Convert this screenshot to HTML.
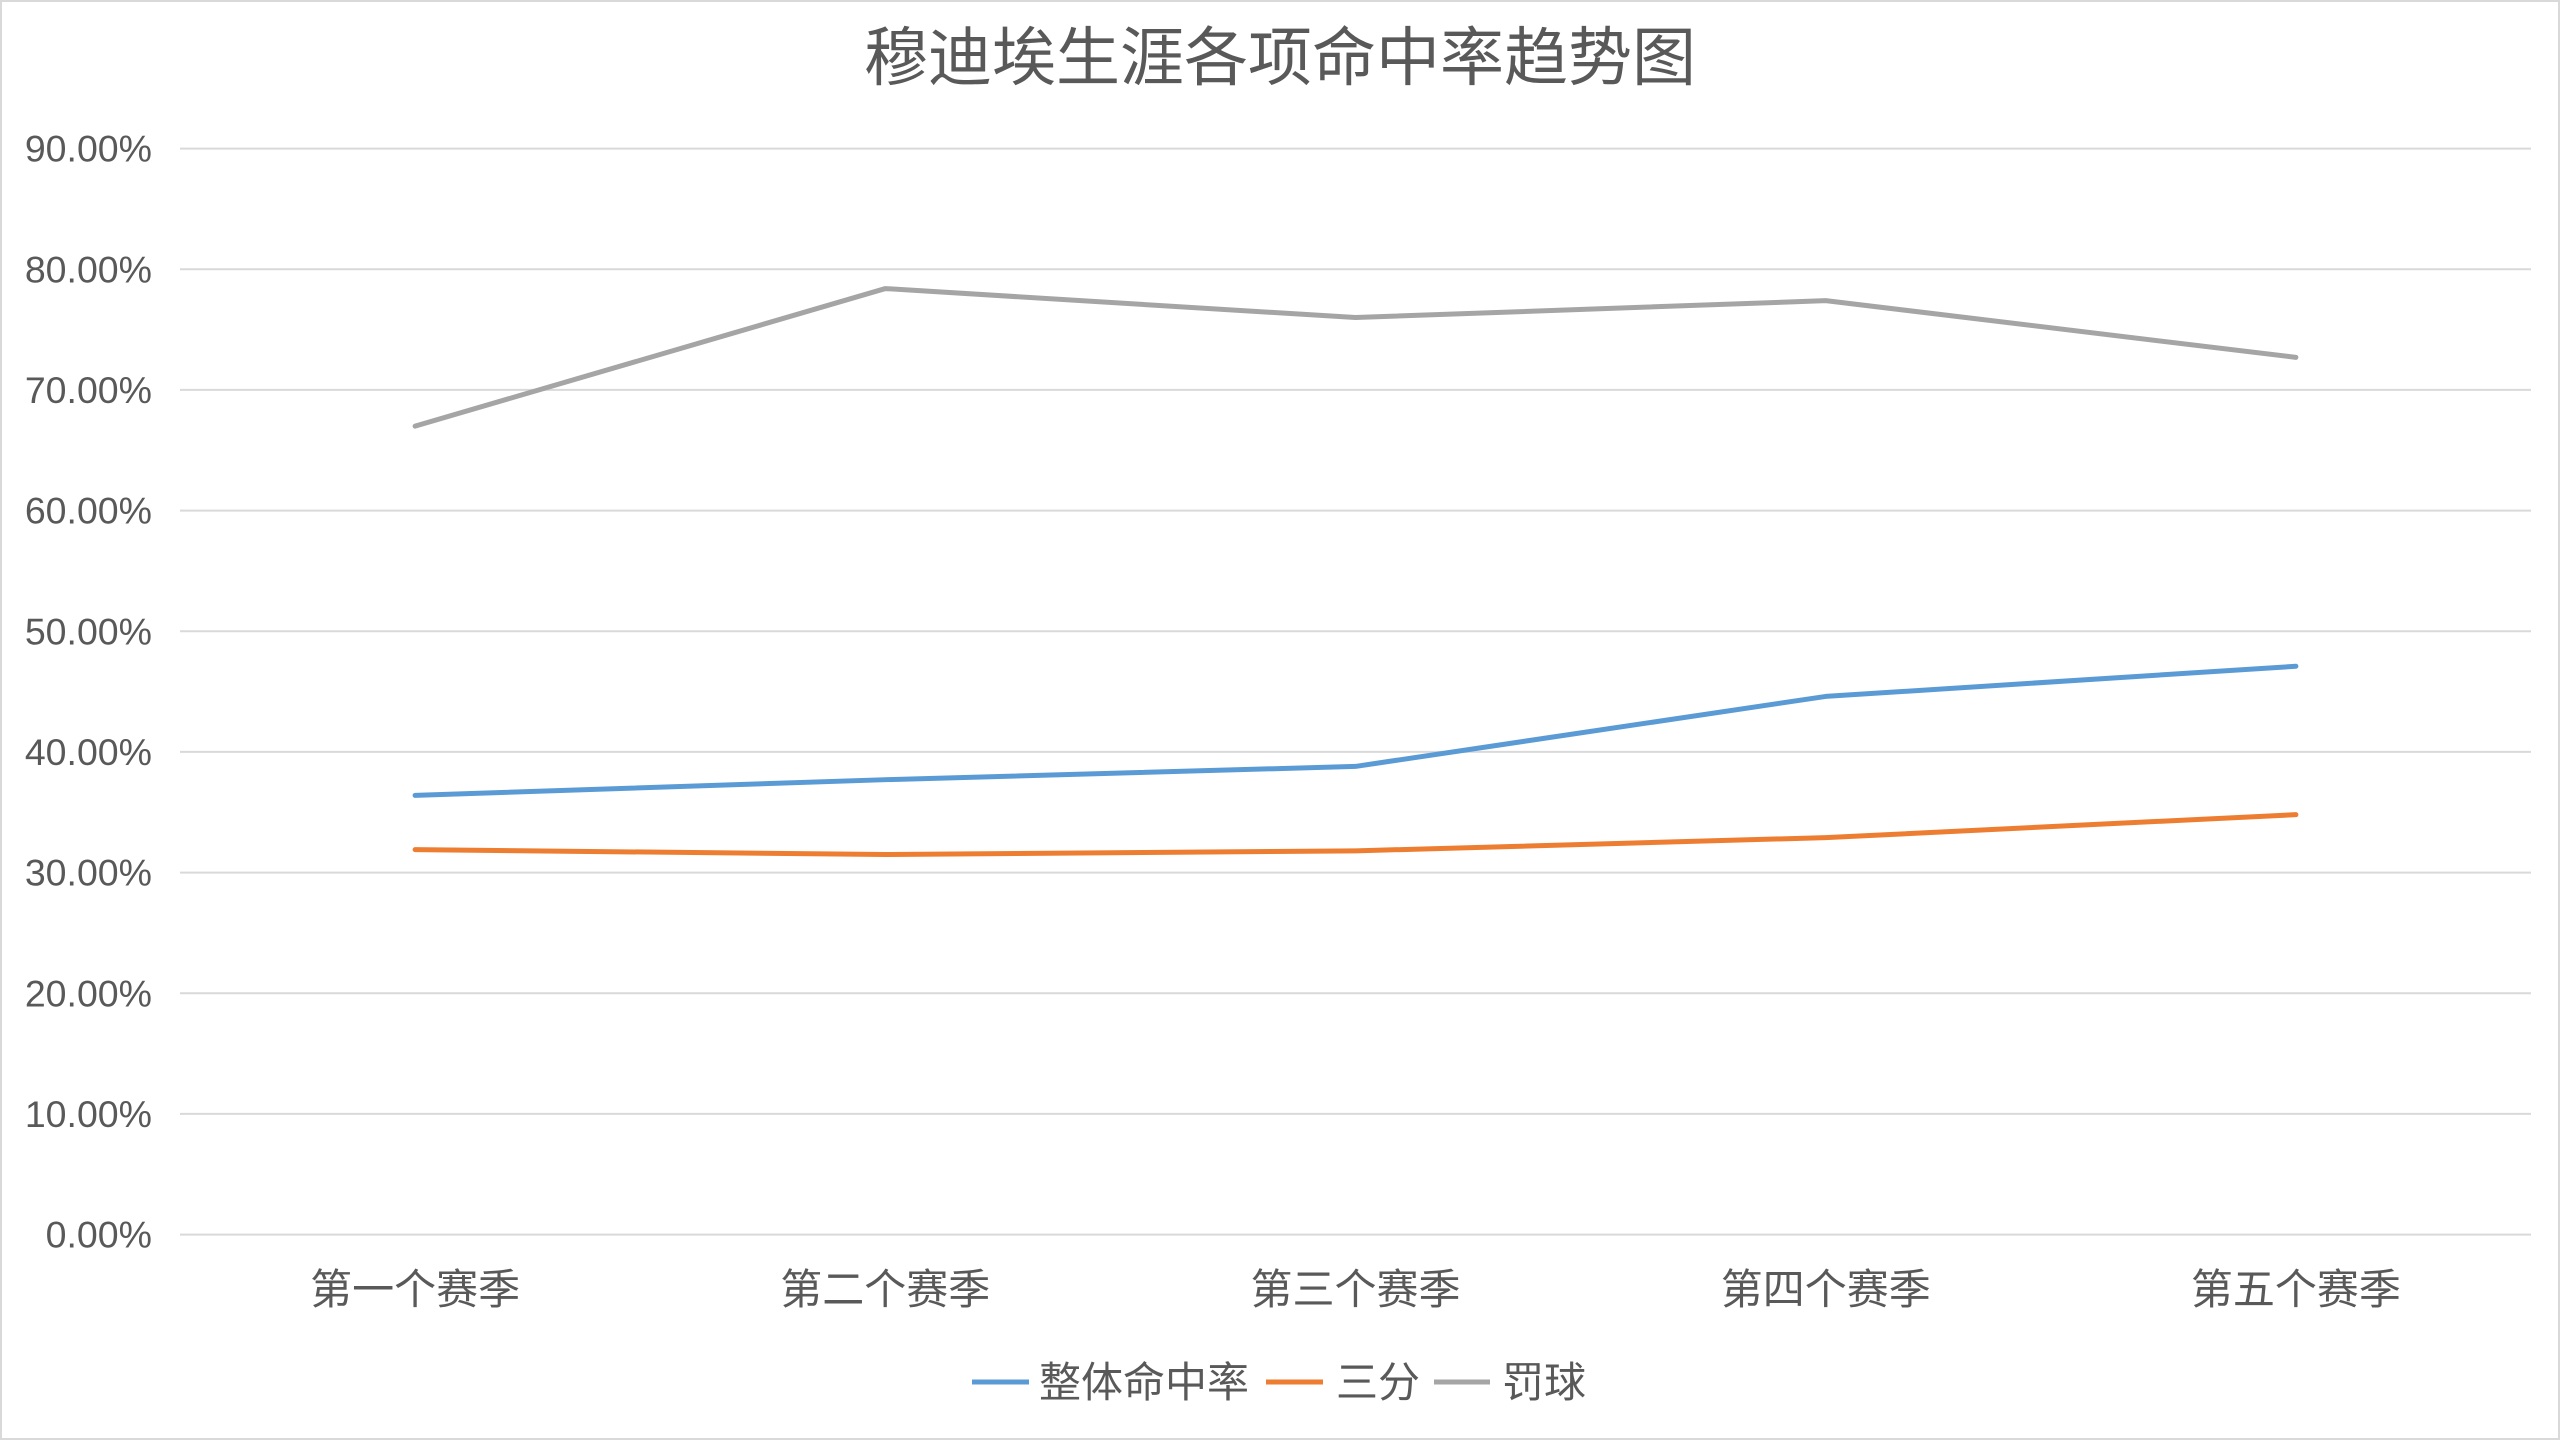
<!DOCTYPE html>
<html><head><meta charset="utf-8"><style>
html,body{margin:0;padding:0;background:#fff;}
svg{display:block;}
text{font-family:"Liberation Sans","Noto Sans CJK SC",sans-serif;fill:#595959;}
</style></head><body>
<svg id="chart" width="2560" height="1440" viewBox="0 0 2560 1440" xmlns="http://www.w3.org/2000/svg">
<rect x="1" y="1" width="2558" height="1438" fill="#fff" stroke="#d9d9d9" stroke-width="2"/>
<text x="1280" y="80" font-size="64" text-anchor="middle">穆迪埃生涯各项命中率趋势图</text>
<g id="grid"></g>
<g id="yticks"></g>
<g id="xticks"></g>
<g id="lines"></g>
<g>
<line x1="972" y1="1382" x2="1029" y2="1382" stroke="#5b9bd5" stroke-width="5"/>
<text x="1039" y="1397" font-size="42">整体命中率</text>
<line x1="1266" y1="1382" x2="1323" y2="1382" stroke="#ed7d31" stroke-width="5"/>
<text x="1336" y="1397" font-size="42">三分</text>
<line x1="1434" y1="1382" x2="1490" y2="1382" stroke="#a5a5a5" stroke-width="5"/>
<text x="1502" y="1397" font-size="42">罚球</text>
</g>
</svg>
<script>
const categories = ["第一个赛季","第二个赛季","第三个赛季","第四个赛季","第五个赛季"];
const overall = [36.4, 37.7, 38.8, 44.6, 47.1];
const threePt = [31.9, 31.5, 31.8, 32.9, 34.8];
const freeThrow = [67.0, 78.4, 76.0, 77.4, 72.7];
const yTicks = [0,10,20,30,40,50,60,70,80,90];

const NS="http://www.w3.org/2000/svg";
const L=180,R=2531,Y0=1234.6,Y90=148.6;
const y=v=>Y0-(v/90)*(Y0-Y90);
const step=(R-L)/categories.length;
const x=i=>L+step*(i+0.5);
function mk(tag,attrs,parent){const e=document.createElementNS(NS,tag);for(const k in attrs)e.setAttribute(k,attrs[k]);parent.appendChild(e);return e;}
const grid=document.getElementById('grid'),yt=document.getElementById('yticks'),xt=document.getElementById('xticks'),lines=document.getElementById('lines');
yTicks.forEach(v=>{
  const g=mk('line',{x1:L,x2:R,y1:y(v),y2:y(v),stroke:'#d9d9d9','stroke-width':2},grid);
  
  
  const t=mk('text',{x:152,y:y(v)+13,'font-size':37.5,'text-anchor':'end'},yt);
  t.textContent=v.toFixed(2)+'%';
  
  
});
categories.forEach((c,i)=>{
  const t=mk('text',{x:x(i),y:1304,'font-size':42,'text-anchor':'middle'},xt);
  t.textContent=c;
  
  
});
[[overall,'#5b9bd5','line-overall'],[threePt,'#ed7d31','line-three-point'],[freeThrow,'#a5a5a5','line-free-throw']].forEach(([d,col,name])=>{
  const p=mk('polyline',{points:d.map((v,i)=>x(i)+','+y(v)).join(' '),fill:'none',stroke:col,'stroke-width':5,'stroke-linejoin':'round','stroke-linecap':'round'},lines);
  
  
});
</script>
</body></html>
